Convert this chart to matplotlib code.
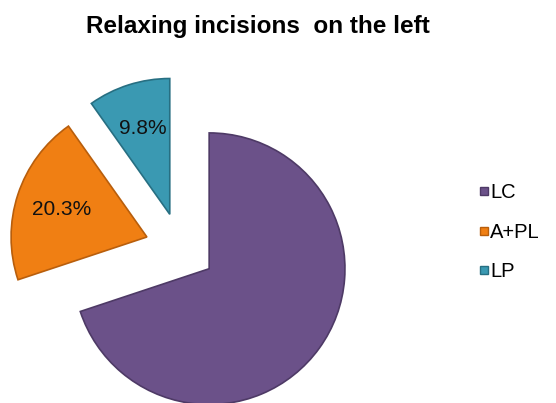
import matplotlib.pyplot as plt
from matplotlib.lines import Line2D

plt.rcParams['font.family'] = ['Liberation Sans', 'DejaVu Sans']

labels = ['LC', 'A+PL', 'LP']
values = [69.9, 20.3, 9.8]
colors = ['#6b5189', '#f07f13', '#3a99b2']
edges = ['#4e3a66', '#b85e0c', '#276f82']

fig = plt.figure(figsize=(5.56, 4.03), dpi=100)
ax = fig.add_axes([0, 0, 360 / 556, 343 / 403])

wedges, texts, autotexts = ax.pie(values, colors=colors, startangle=90,
                                  counterclock=False, explode=[0.2526] * 3,
                                  radius=0.97,
                                  autopct='%.1f%%', pctdistance=0.66,
                                  wedgeprops=dict(linewidth=1.2),
                                  textprops=dict(fontsize=15, color='#111111'))
for w, ec in zip(wedges, edges):
    w.set_edgecolor(ec)
autotexts[0].set_visible(False)

ax.set_xlim(-1.289, 1.282)
ax.set_ylim(-1.107, 1.343)
ax.set_aspect('equal')

fig.text(0.464, 0.934, 'Relaxing incisions  on the left', ha='center', va='center',
         fontsize=17.5, fontweight='bold')

handles = [Line2D([], [], marker='s', linestyle='none', markersize=6,
                  markerfacecolor=c, markeredgecolor=e) for c, e in zip(colors, edges)]
fig.legend(handles, labels, loc='center left', bbox_to_anchor=(0.842, 0.424),
           frameon=False, fontsize=14.5, handletextpad=-0.1, handlelength=0.8,
           labelspacing=1.0, borderaxespad=0)

fig.savefig('out.png', dpi=100)
